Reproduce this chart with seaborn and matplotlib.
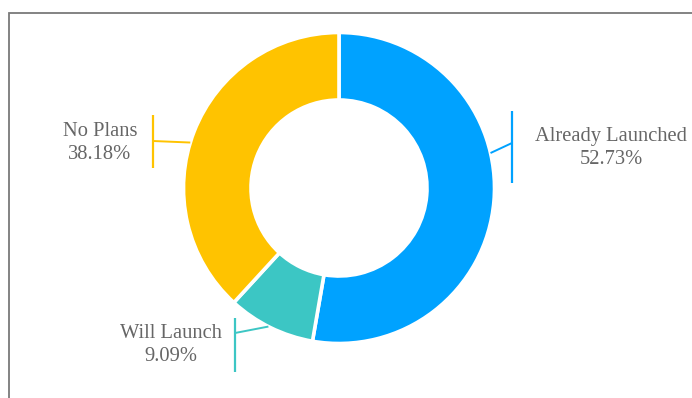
import numpy as np
import matplotlib
matplotlib.use("Agg")
import matplotlib.pyplot as plt
import seaborn as sns
from matplotlib.patches import Rectangle

# Survey shares
categories = ["Already Launched", "Will Launch", "No Plans"]
shares = [52.73, 9.09, 38.18]
colors = ["#00A2FF", "#3CC6C4", "#FFC300"]

# Label leader geometry (angle on the ring, bar x, bar extent, join height, text placement)
label_angles = [13, -117, 163]
bar_x = [512, 235, 153]
bar_span = [(111, 183), (318, 372), (115, 168)]
join_y = [143, 333, 141]
text_xy = [(611, 148), (171, 345), (100, 143)]

sns.set_theme(style="white")
plt.rcParams["font.family"] = ["Liberation Serif", "DejaVu Serif"]

W, H = 692, 398
fig = plt.figure(figsize=(W / 100, H / 100), dpi=100)
ax = fig.add_axes([0, 0, 1, 1])

cx, cy = 339, H - 188
r_out, r_in = 155.5, 88

ax.pie(shares, colors=colors, radius=r_out, center=(cx, cy), startangle=90,
       counterclock=False,
       wedgeprops=dict(width=r_out - r_in, edgecolor="white", linewidth=2.6))

for name, val, col, ang, bx, (y0, y1), jy, (tx, ty) in zip(
        categories, shares, colors, label_angles, bar_x, bar_span, join_y, text_xy):
    a = np.deg2rad(ang)
    sx, sy = cx + r_out * np.cos(a), cy + r_out * np.sin(a)
    ax.plot([sx, bx], [sy, H - jy], color=col, lw=1.4, solid_capstyle="butt")
    ax.plot([bx, bx], [H - y0, H - y1], color=col, lw=1.6, solid_capstyle="butt")
    ax.text(tx, H - ty, f"{name}\n{val:.2f}%", ha="center", va="center",
            fontsize=14.8, color="#666666", linespacing=1.35)

ax.set_xlim(0, W)
ax.set_ylim(0, H)
ax.set_aspect("equal")
ax.axis("off")

# Outer frame, running off the right and bottom edges
fig.patches.append(Rectangle((8.5 / W, -0.1), 1.2, (H - 12.5) / H + 0.1,
                             transform=fig.transFigure, fill=False,
                             edgecolor="#7a7a7a", lw=1.3))

fig.savefig("out.png", dpi=100)
